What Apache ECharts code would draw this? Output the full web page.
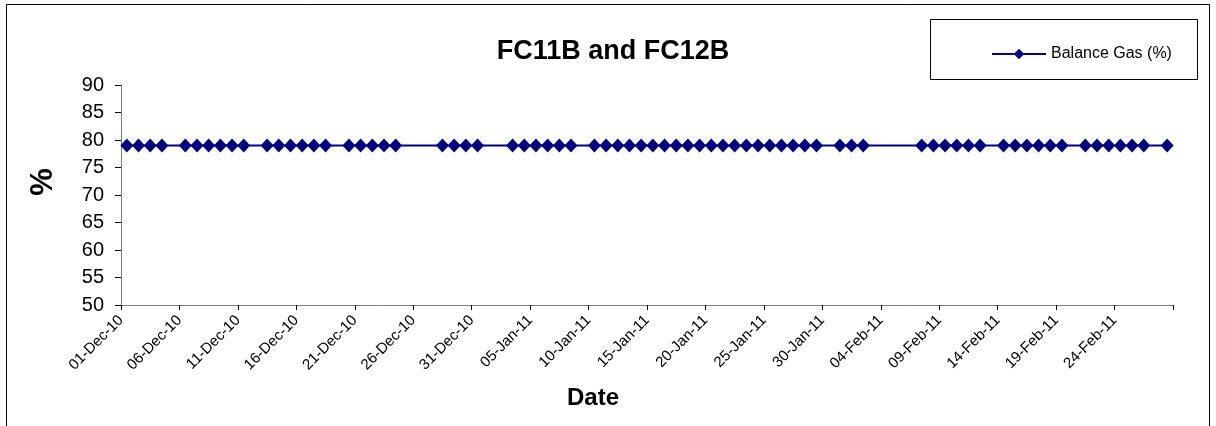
<!DOCTYPE html>
<html><head><meta charset="utf-8">
<script src="https://cdn.jsdelivr.net/npm/echarts@6/dist/echarts.min.js"></script>
<style>html,body{margin:0;padding:0;background:#fff}#c{width:1216px;height:426px}</style>
</head><body><div id="c"></div>
<script>
// Dates with a reading (day-month-year) and the Balance Gas value on each
const dates = [
  '01-Dec-10','02-Dec-10','03-Dec-10','04-Dec-10',
  '06-Dec-10','07-Dec-10','08-Dec-10','09-Dec-10','10-Dec-10','11-Dec-10',
  '13-Dec-10','14-Dec-10','15-Dec-10','16-Dec-10','17-Dec-10','18-Dec-10',
  '20-Dec-10','21-Dec-10','22-Dec-10','23-Dec-10','24-Dec-10',
  '28-Dec-10','29-Dec-10','30-Dec-10','31-Dec-10',
  '03-Jan-11','04-Jan-11','05-Jan-11','06-Jan-11','07-Jan-11','08-Jan-11',
  '10-Jan-11','11-Jan-11','12-Jan-11','13-Jan-11','14-Jan-11','15-Jan-11','16-Jan-11','17-Jan-11','18-Jan-11','19-Jan-11',
  '20-Jan-11','21-Jan-11','22-Jan-11','23-Jan-11','24-Jan-11','25-Jan-11','26-Jan-11','27-Jan-11','28-Jan-11','29-Jan-11',
  '31-Jan-11','01-Feb-11','02-Feb-11',
  '07-Feb-11','08-Feb-11','09-Feb-11','10-Feb-11','11-Feb-11','12-Feb-11',
  '14-Feb-11','15-Feb-11','16-Feb-11','17-Feb-11','18-Feb-11','19-Feb-11',
  '21-Feb-11','22-Feb-11','23-Feb-11','24-Feb-11','25-Feb-11','26-Feb-11',
  '28-Feb-11'
];
const balanceGas = [
  79,79,79,79,
  79,79,79,79,79,79,
  79,79,79,79,79,79,
  79,79,79,79,79,
  79,79,79,79,
  79,79,79,79,79,79,
  79,79,79,79,79,79,79,79,79,79,
  79,79,79,79,79,79,79,79,79,79,
  79,79,79,
  79,79,79,79,79,79,
  79,79,79,79,79,79,
  79,79,79,79,79,79,
  79
];
const xTickLabels = ['01-Dec-10','06-Dec-10','11-Dec-10','16-Dec-10','21-Dec-10','26-Dec-10',
  '31-Dec-10','05-Jan-11','10-Jan-11','15-Jan-11','20-Jan-11','25-Jan-11','30-Jan-11',
  '04-Feb-11','09-Feb-11','14-Feb-11','19-Feb-11','24-Feb-11'];
const seriesName = 'Balance Gas (%)';
const chartTitle = 'FC11B and FC12B';
const xAxisTitle = 'Date';
const yAxisTitle = '%';

const MONTHS = {Jan:0,Feb:1,Mar:2,Apr:3,May:4,Jun:5,Jul:6,Aug:7,Sep:8,Oct:9,Nov:10,Dec:11};
const START = Date.UTC(2010, 11, 1);
function dayIndex(s) {
  const [d, m, y] = s.split('-');
  return Math.round((Date.UTC(2000 + (+y), MONTHS[m], +d) - START) / 86400000);
}
// Excel date axis: each day occupies a slot, the point sits in its middle
const seriesData = dates.map((d, i) => [dayIndex(d) + 0.5, balanceGas[i]]);

const font = '"Liberation Sans", Arial, sans-serif';
const chart = echarts.init(document.getElementById('c'), null, {renderer: 'canvas'});
chart.setOption({
  animation: false,
  backgroundColor: '#fff',
  title: {
    text: chartTitle, left: 608, top: 33, textAlign: 'center',
    textStyle: {fontFamily: font, fontWeight: 'bold', fontSize: 27, color: '#000'}
  },
  legend: {
    data: [seriesName], left: 986, top: 41, itemWidth: 54, itemHeight: 13, itemGap: 4,
    textStyle: {fontFamily: font, fontSize: 16, color: '#000'}
  },
  grid: {left: 121, top: 85, width: 1052, height: 220, containLabel: false},
  xAxis: {
    type: 'value', min: 0, max: 90, interval: 5,
    splitLine: {show: false},
    axisLine: {lineStyle: {color: '#808080', width: 1}},
    axisTick: {show: true, length: 5, lineStyle: {color: '#000'}},
    axisLabel: {
      rotate: 45, margin: 13, fontFamily: font, fontSize: 15, color: '#000',
      showMaxLabel: true,
      formatter: v => xTickLabels[Math.round(v / 5)] || ''
    }
  },
  yAxis: {
    type: 'value', min: 50, max: 90, interval: 5,
    splitLine: {show: false},
    axisLine: {show: true, lineStyle: {color: '#808080', width: 1}},
    axisTick: {show: true, length: 6, lineStyle: {color: '#000'}},
    axisLabel: {margin: 17, fontFamily: font, fontSize: 20, color: '#000'}
  },
  series: [{
    name: seriesName, type: 'line', data: seriesData,
    symbol: 'diamond', symbolSize: [13, 14],
    itemStyle: {color: '#000080'},
    lineStyle: {color: '#000080', width: 2}
  }],
  graphic: [
    {type: 'rect', shape: {x: 6.5, y: 4.5, width: 1203, height: 440}, style: {fill: 'none', stroke: '#000', lineWidth: 1}, silent: true, z: -1},
    {type: 'rect', shape: {x: 930.5, y: 19.5, width: 267, height: 60}, style: {fill: 'none', stroke: '#000', lineWidth: 1}, silent: true},
    {type: 'text', x: 43, y: 182, rotation: Math.PI / 2,
      style: {text: yAxisTitle, fontFamily: font, fontWeight: 'bold', fontSize: 31, fill: '#000', align: 'center', verticalAlign: 'middle'}},
    {type: 'text', x: 593, y: 398,
      style: {text: xAxisTitle, fontFamily: font, fontWeight: 'bold', fontSize: 24, fill: '#000', align: 'center', verticalAlign: 'middle'}}
  ]
});
</script></body></html>
